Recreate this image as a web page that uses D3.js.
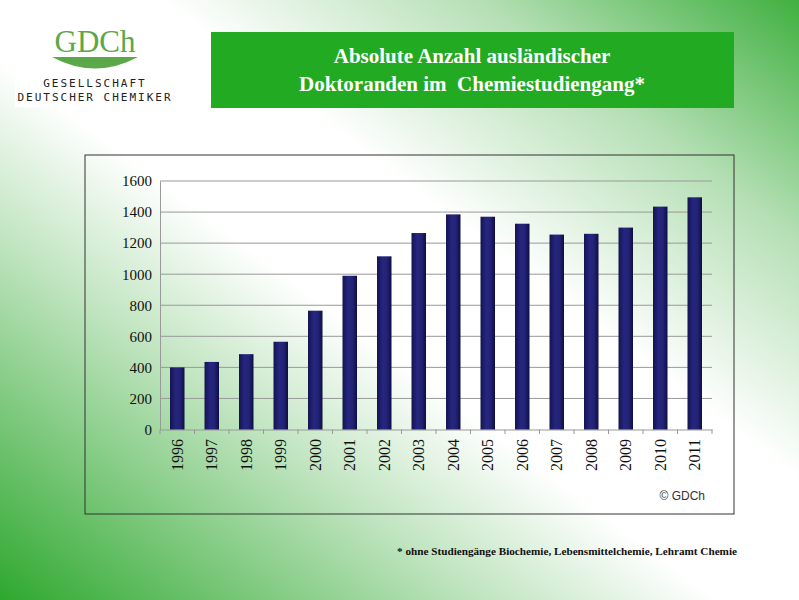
<!DOCTYPE html>
<html><head><meta charset="utf-8">
<script src="https://cdn.jsdelivr.net/npm/d3@7"></script>
<style>body{margin:0;overflow:hidden}</style>
</head><body>
<script>
const years=["1996","1997","1998","1999","2000","2001","2002","2003","2004","2005","2006","2007","2008","2009","2010","2011"];
const values=[400,435,485,565,765,990,1115,1265,1385,1370,1325,1255,1260,1300,1435,1495];
const yTicks=[0,200,400,600,800,1000,1200,1400,1600];
const W=799,H=600;
const svg=d3.select("body").append("svg").attr("width",W).attr("height",H);
const defs=svg.append("defs");
const g1=defs.append("linearGradient").attr("id","bg").attr("x1","0").attr("y1","1").attr("x2","1").attr("y2","0");
[[0,"#2ea82e"],[0.3,"#bfe4bf"],[0.45,"#ffffff"],[0.6,"#ffffff"],[0.8,"#b5dfb5"],[1,"#40b040"]].forEach(s=>g1.append("stop").attr("offset",s[0]).attr("stop-color",s[1]));
svg.append("rect").attr("width",W).attr("height",H).attr("fill","url(#bg)");
const bg=defs.append("linearGradient").attr("id","bar").attr("x1","0").attr("x2","1");
[[0,"#141450"],[0.4,"#262680"],[0.7,"#222275"],[1,"#0e0e40"]].forEach(s=>bg.append("stop").attr("offset",s[0]).attr("stop-color",s[1]));
// logo
svg.append("rect").attr("x",15).attr("y",25).attr("width",158).attr("height",82).attr("fill","#fff");
svg.append("text").attr("x",95).attr("y",52).attr("text-anchor","middle").attr("font-family","Liberation Serif").attr("font-size",31).attr("fill","#5aa84a").text("GDCh");
svg.append("path").attr("d","M52,57 L138,57 Q95,80 52,57 Z").attr("fill","#5aa84a");
svg.append("text").attr("x",95).attr("y",87).attr("text-anchor","middle").attr("font-family","DejaVu Sans Mono").attr("font-size",11).attr("letter-spacing",2).attr("fill","#222").text("GESELLSCHAFT");
svg.append("text").attr("x",95).attr("y",101).attr("text-anchor","middle").attr("font-family","DejaVu Sans Mono").attr("font-size",11).attr("letter-spacing",2).attr("fill","#222").text("DEUTSCHER CHEMIKER");
// title
svg.append("rect").attr("x",211).attr("y",32).attr("width",523).attr("height",76).attr("fill","#22aa22");
const t=svg.append("text").attr("text-anchor","middle").attr("font-family","Liberation Serif").attr("font-weight","bold").attr("font-size",21).attr("fill","#fff");
t.append("tspan").attr("x",472).attr("y",63).text("Absolute Anzahl ausländischer");
t.append("tspan").attr("x",472).attr("y",91).style("white-space","pre").text("Doktoranden im  Chemiestudiengang*");
// chart box
svg.append("rect").attr("x",85).attr("y",155).attr("width",649).attr("height",359).attr("fill","none").attr("stroke","#333").attr("stroke-width",1);
const x=d3.scaleBand().domain(years).range([160,712]).paddingInner(0.58).paddingOuter(0.29);
const y=d3.scaleLinear().domain([0,1600]).range([429.5,181]);
const gy=svg.append("g").attr("transform","translate(160,0)").call(d3.axisLeft(y).tickValues(yTicks).tickFormat(d3.format("d")).tickSize(0).tickPadding(8));
gy.select(".domain").attr("stroke","#999");
gy.selectAll("text").attr("font-family","Liberation Serif").attr("font-size",15).attr("fill","#111");
svg.append("g").selectAll("line").data(yTicks.slice(1)).join("line").attr("x1",160).attr("x2",712).attr("y1",d=>y(d)).attr("y2",d=>y(d)).attr("stroke","#999");
const gx=svg.append("g").attr("transform","translate(0,429.5)").call(d3.axisBottom(x).tickSize(0).tickFormat(""));
gx.select(".domain").attr("stroke","#999");
const step=x.step();
svg.append("g").selectAll("line").data(d3.range(years.length+1)).join("line").attr("x1",i=>x.range()[0]+i*step).attr("x2",i=>x.range()[0]+i*step).attr("y1",429.5).attr("y2",434).attr("stroke","#999");
svg.append("g").selectAll("rect").data(years).join("rect").attr("x",d=>x(d)).attr("width",x.bandwidth()).attr("y",(d,i)=>y(values[i])).attr("height",(d,i)=>y(0)-y(values[i])).attr("fill","url(#bar)");
svg.append("g").selectAll("text").data(years).join("text").attr("transform",d=>`translate(${x(d)+x.bandwidth()/2+5.5},${439}) rotate(-90)`).attr("text-anchor","end").attr("font-family","Liberation Serif").attr("font-size",16).attr("fill","#111").text(d=>d);
svg.append("text").attr("x",705).attr("y",500).attr("text-anchor","end").attr("font-family","Liberation Sans").attr("font-size",12).attr("fill","#333").text("© GDCh");
svg.append("text").attr("x",737).attr("y",555).attr("text-anchor","end").attr("font-family","Liberation Serif").attr("font-weight","bold").attr("font-size",11.2).attr("fill","#111").text("* ohne Studiengänge Biochemie, Lebensmittelchemie, Lehramt Chemie");
</script>
</body></html>
